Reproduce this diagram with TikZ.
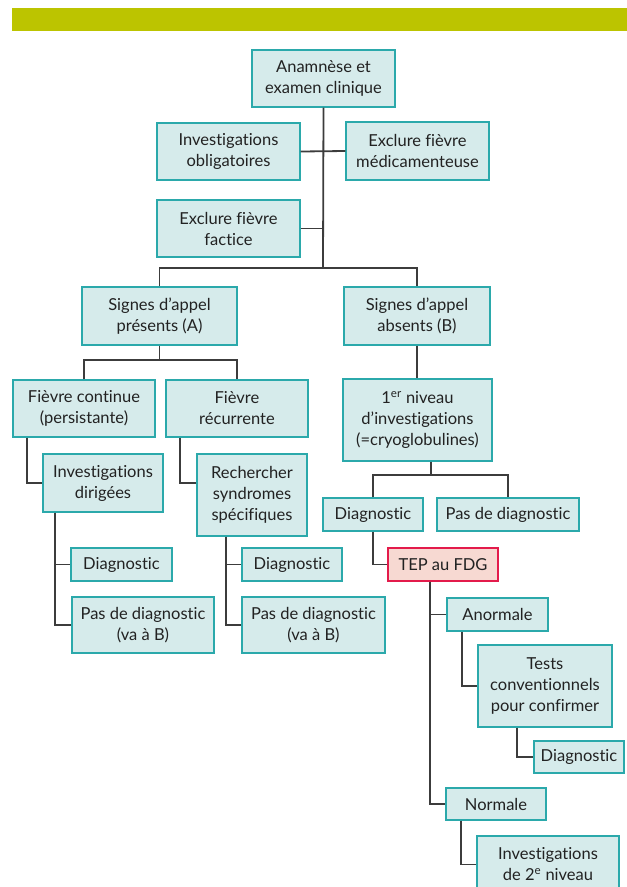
\documentclass[tikz,border=0pt]{standalone}
\usepackage{fontspec}
\setmainfont[Ligatures={NoCommon,NoRare}]{Lato}
\usepackage{xcolor}
\usepackage{tikz}
\definecolor{barolive}{HTML}{BCC400}
\definecolor{boxfill}{HTML}{D6EBEB}
\definecolor{boxline}{HTML}{2BA9AB}
\definecolor{tepfill}{HTML}{F7D9D2}
\definecolor{tepline}{HTML}{E31B4B}
\definecolor{wire}{HTML}{3C3C3C}
\definecolor{ink}{HTML}{222222}

\begin{document}
\begin{tikzpicture}[x=1pt,y=-1pt,
    box/.style={draw=boxline,fill=boxfill,line width=1.4pt,align=center,
      inner sep=0pt,text=ink,font=\fontsize{16.5}{21}\selectfont},
    redbox/.style={box,draw=tepline,fill=tepfill},
    wire/.style={draw=wire,line width=1.8pt}]
    \useasboundingbox (0,0) rectangle (627,887);
    \clip (0,0) rectangle (627,887);
    \fill[barolive] (12,8) rectangle (627,31);

    \node[box,minimum width=143pt,minimum height=57pt] (anam) at (323.5,78.5) {Anamnèse et\\examen clinique};
    \node[box,minimum width=143pt,minimum height=57pt] (invob) at (228.5,151.5) {Investigations\\obligatoires};
    \node[box,minimum width=143pt,minimum height=58pt] (medic) at (417.5,151) {Exclure fièvre\\médicamenteuse};
    \node[box,minimum width=143pt,minimum height=57pt] (factice) at (228.5,228.5) {Exclure fièvre\\factice};
    \node[box,minimum width=155pt,minimum height=58pt] (sigA) at (159.5,316) {Signes d’appel\\présents (A)};
    \node[box,minimum width=146pt,minimum height=58pt] (sigB) at (417,316) {Signes d’appel\\absents (B)};
    \node[box,minimum width=142pt,minimum height=57pt] (contin) at (84,408.5) {Fièvre continue\\(persistante)};
    \node[box,minimum width=142pt,minimum height=57pt] (recur) at (237,408.5) {Fièvre\\récurrente};
    \node[box,minimum width=120pt,minimum height=58pt] (invdir) at (103,483) {Investigations\\dirigées};
    \node[box,minimum width=110pt,minimum height=82pt] (rech) at (252,495) {Rechercher\\syndromes\\spécifiques};
    \node[box,minimum width=101pt,minimum height=33pt] (diagL) at (121.5,564.5) {Diagnostic};
    \node[box,minimum width=142pt,minimum height=56pt] (pasL) at (143,625) {Pas de diagnostic\\(va à B)};
    \node[box,minimum width=100pt,minimum height=33pt] (diagM) at (292,564.5) {Diagnostic};
    \node[box,minimum width=143pt,minimum height=56pt] (pasM) at (313.5,625) {Pas de diagnostic\\(va à B)};
    \node[box,minimum width=149pt,minimum height=82pt] (niv1) at (417.5,420) {1\textsuperscript{er} niveau\\d’investigations\\(=cryoglobulines)};
    \node[box,minimum width=100pt,minimum height=33pt] (diagR) at (373,514.5) {Diagnostic};
    \node[box,minimum width=142pt,minimum height=33pt] (pasR) at (508,514.5) {Pas de diagnostic};
    \node[redbox,minimum width=110pt,minimum height=33pt] (tep) at (443,564.5) {TEP au FDG};
    \node[box,minimum width=101pt,minimum height=33pt] (anorm) at (497.5,614.5) {Anormale};
    \node[box,minimum width=134pt,minimum height=82pt] (tests) at (545,686) {Tests\\conventionnels\\pour confirmer};
    \node[box,minimum width=90pt,minimum height=32pt] (diagT) at (579,757) {Diagnostic};
    \node[box,minimum width=100pt,minimum height=32pt] (normale) at (496,804) {Normale};
    \node[box,minimum width=142pt,minimum height=57pt] (inv2) at (548,864.5) {Investigations\\de 2\textsuperscript{e} niveau};

    \coordinate (bus1) at (323,268);
    \coordinate (bus2) at (159.5,360);
    \coordinate (bus3) at (431,475);

    \draw[wire] (anam.south) -- (bus1);
    \draw[wire] (invob.east) -- (medic.west);
    \draw[wire] (factice.east) -- (factice.east -| anam.south);
    \draw[wire] (sigA.north) |- (bus1) -| (sigB.north);
    \draw[wire] (sigA.south) -- (bus2);
    \draw[wire] (contin.north) |- (bus2) -| (recur.north);
    \draw[wire] ([xshift=-57pt]contin.south) |- (invdir.west);
    \draw[wire] ([xshift=-57pt]recur.south) |- ([yshift=12pt]rech.west);
    \draw[wire] ([xshift=-48pt]invdir.south) |- (diagL.west);
    \draw[wire] ([xshift=-48pt]invdir.south) |- (pasL.west);
    \draw[wire] ([xshift=-26pt]rech.south) |- (diagM.west);
    \draw[wire] ([xshift=-26pt]rech.south) |- (pasM.west);
    \draw[wire] (sigB.south) -- (sigB.south |- niv1.north);
    \draw[wire] ([xshift=13.5pt]niv1.south) -- (bus3);
    \draw[wire] (diagR.north) |- (bus3) -| (pasR.north);
    \draw[wire] (diagR.south) |- (tep.west);
    \draw[wire] ([xshift=-13pt]tep.south) |- (anorm.west);
    \draw[wire] ([xshift=-13pt]tep.south) |- (normale.west);
    \draw[wire] ([xshift=-35.5pt]anorm.south) |- (tests.west);
    \draw[wire] ([xshift=-28pt]tests.south) |- (diagT.west);
    \draw[wire] ([xshift=-35pt]normale.south) |- (inv2.west);
\end{tikzpicture}
\end{document}
